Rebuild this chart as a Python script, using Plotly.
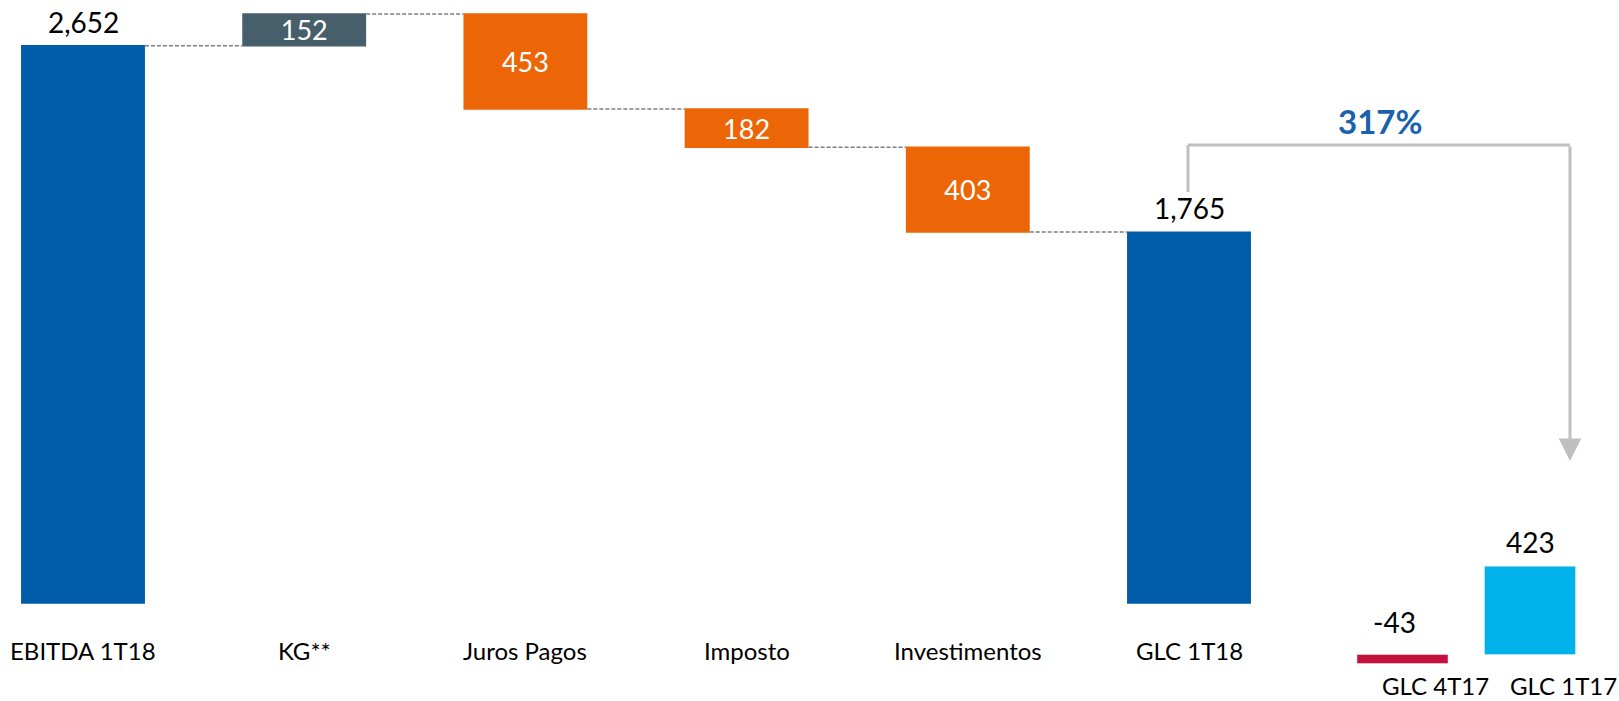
import plotly.graph_objects as go

# ---------------- data ----------------
categories = ["EBITDA 1T18", "KG**", "Juros Pagos", "Imposto", "Investimentos", "GLC 1T18"]
measures = ["absolute", "relative", "relative", "relative", "relative", "absolute"]
values = [2652, 152, -453, -182, -403, 1765]

comp_categories = ["GLC 4T17", "GLC 1T17"]
comp_values = [-43, 423]
comp_colors = ["#C50F3C", "#00B2EA"]

growth_label = "317%"

# ---------------- style ----------------
W, H = 1619, 701
FONT = "Lato"
BLUE = "#005CA9"
ORANGE = "#EC6608"
GREY = "#475F6B"
ARROW = "#BFBFBF"

fig = go.Figure()

inside_pos = ["none" if m == "absolute" else "inside" for m in measures]
inside_txt = ["" if m == "absolute" else f"{abs(v):,}" for m, v in zip(measures, values)]

fig.add_trace(go.Waterfall(
    x=categories, y=values, measure=measures,
    text=inside_txt, textposition=inside_pos,
    textfont=dict(family=FONT, size=27, color="white"),
    insidetextanchor="middle", constraintext="none",
    width=[0.56] * len(categories),
    increasing=dict(marker=dict(color=GREY)),
    decreasing=dict(marker=dict(color=ORANGE)),
    totals=dict(marker=dict(color=BLUE)),
    connector=dict(line=dict(color="#7F7F7F", width=1.5, dash="4px,2px")),
    xaxis="x", yaxis="y", showlegend=False, hoverinfo="skip",
))

fig.add_trace(go.Bar(
    x=comp_categories, y=comp_values, marker=dict(color=comp_colors),
    width=0.714, xaxis="x2", yaxis="y2", showlegend=False, hoverinfo="skip",
))

annotations = []
# outside value labels for totals
for c, m, v in zip(categories, measures, values):
    if m == "absolute":
        annotations.append(dict(x=c, y=v, xref="x", yref="y", text=f"{v:,}",
                                showarrow=False, xanchor="center", yanchor="middle", yshift=24,
                                font=dict(family=FONT, size=28, color="black")))
for c, v in zip(comp_categories, comp_values):
    annotations.append(dict(x=c, y=max(v, 0), xref="x2", yref="y2", text=f"{v:,}",
                            showarrow=False, xanchor="center", yanchor="middle",
                            yshift=24 if v >= 0 else 24 + abs(v) * 0.2085,
                            xshift=-8 if v < 0 else 0,
                            font=dict(family=FONT, size=28, color="black")))
# category labels
for c in categories:
    annotations.append(dict(x=c, y=1 - 650 / H, xref="x", yref="paper", text=c,
                            showarrow=False, xanchor="center", yanchor="middle",
                            font=dict(family=FONT, size=24, color="black")))
for c in comp_categories:
    annotations.append(dict(x=c, y=1 - 685 / H, xref="x2", yref="paper", text=c,
                            showarrow=False, xanchor="center", yanchor="middle", xshift=33,
                            font=dict(family=FONT, size=24, color="black")))

# bracket arrow + growth label
xl, xr = 1188 / W, 1570 / W
ytop, yleft_bot, ytip = 1 - 145 / H, 1 - 192 / H, 1 - 461 / H
shapes = [
    dict(type="line", xref="paper", yref="paper", x0=xl, x1=xl, y0=yleft_bot, y1=ytop,
         line=dict(color=ARROW, width=3)),
    dict(type="line", xref="paper", yref="paper", x0=xl, x1=xr, y0=ytop, y1=ytop,
         line=dict(color=ARROW, width=3)),
]
annotations.append(dict(x=xr, y=ytip, xref="paper", yref="paper", ax=0, ay=-(461 - 145),
                        axref="pixel", ayref="pixel", showarrow=True, arrowhead=2,
                        arrowsize=1.5, arrowwidth=3, arrowcolor=ARROW, text=""))
annotations.append(dict(x=1380 / W, y=1 - 121 / H, xref="paper", yref="paper",
                        text=f"<b>{growth_label}</b>", showarrow=False,
                        xanchor="center", yanchor="middle",
                        font=dict(family=FONT, size=33, color="#1A62AD")))

s1 = 0.2101
s2 = 0.2085
base1, base2 = 603, 654.5
fig.update_layout(
    width=W, height=H, margin=dict(l=0, r=0, t=0, b=0),
    paper_bgcolor="white", plot_bgcolor="white",
    font=dict(family=FONT),
    xaxis=dict(domain=[0, 1], range=[-83 / 221.2, (W - 83) / 221.2], visible=False,
               type="category", categoryorder="array", categoryarray=categories),
    yaxis=dict(domain=[0, 1], range=[(base1 - H) / s1, base1 / s1], visible=False),
    xaxis2=dict(domain=[1338.75 / W, 1593.75 / W], range=[-0.5, 1.5], visible=False,
                anchor="y2", type="category", categoryorder="array",
                categoryarray=comp_categories),
    yaxis2=dict(domain=[0, 1], range=[(base2 - H) / s2, base2 / s2], visible=False,
                anchor="x2"),
    annotations=annotations, shapes=shapes,
)

fig.write_html("out.html")
